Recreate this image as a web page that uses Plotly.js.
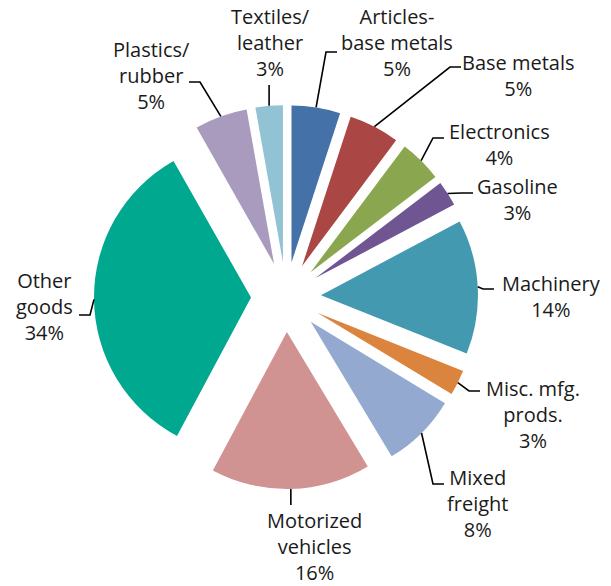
<!DOCTYPE html>
<html>
<head>
<meta charset="utf-8">
<script src="https://cdn.plot.ly/plotly-3.0.1.min.js"></script>
<style>
  html, body { margin: 0; padding: 0; background: #fff; }
  #chart { width: 611px; height: 586px; }
</style>
</head>
<body>
<div id="chart"></div>
<script>
// ---- data ----
const categories = ['Articles-base metals', 'Base metals', 'Electronics', 'Gasoline', 'Machinery',
  'Misc. mfg. prods.', 'Mixed freight', 'Motorized vehicles', 'Other goods', 'Plastics/rubber', 'Textiles/leather'];
const labelText = ['Articles-<br>base metals', 'Base metals', 'Electronics', 'Gasoline', 'Machinery',
  'Misc. mfg.<br>prods.', 'Mixed<br>freight', 'Motorized<br>vehicles', 'Other<br>goods', 'Plastics/<br>rubber', 'Textiles/<br>leather'];
const values = [5.0, 5.2, 4.4, 2.6, 13.8, 2.6, 7.7, 16.4, 33.9, 5.4, 2.8];

// ---- style ----
const colors = ['#4571A9', '#AA4644', '#8AA74F', '#6F5693', '#4299B0', '#DB843D',
  '#93A9CF', '#D19392', '#00A88F', '#A99BBE', '#92C3D4'];

// ---- layout geometry (pixels) ----
const W = 611, H = 586;
const CX = 286, CY = 297, HALF = 192, PULL = 0.223;
const R = HALF / (1 + PULL);
// label block centres
const labelCenter = [[397, 43], [518, 75], [499, 144], [517, 200], [551, 296], [533, 414],
  [477, 503], [314, 546], [44, 306], [151, 75], [270, 43]];
// leader elbow point and side of text ('R' text right of elbow, 'L' text left, 'V' vertical to y)
const leader = [
  {side: 'R', x: 326, y: 52}, {side: 'R', x: 450, y: 67}, {side: 'R', x: 433, y: 138},
  {side: 'R', x: 462, y: 193}, {side: 'R', x: 483, y: 289}, {side: 'R', x: 469, y: 391},
  {side: 'R', x: 433, y: 484}, {side: 'V', y: 505}, {side: 'L', x: 90, y: 315},
  {side: 'L', x: 200, y: 82}, {side: 'V', y: 85}
];
const ELBOW = 11;

const total = values.reduce((a, b) => a + b, 0);
const px = x => x / W;
const py = y => 1 - y / H;

const annotations = [];
const shapes = [];
let cum = 0;
values.forEach((v, i) => {
  const a0 = cum / total * 2 * Math.PI;
  cum += v;
  const a1 = cum / total * 2 * Math.PI;
  const mid = (a0 + a1) / 2;
  const pcx = CX + PULL * R * Math.sin(mid);
  const pcy = CY - PULL * R * Math.cos(mid);
  const ax = pcx + R * Math.sin(mid);
  const ay = pcy - R * Math.cos(mid);
  const pct = Math.round(v / total * 100);
  annotations.push({
    xref: 'paper', yref: 'paper', x: px(labelCenter[i][0]), y: py(labelCenter[i][1]),
    xanchor: 'center', yanchor: 'middle', showarrow: false, align: 'center',
    text: labelText[i] + '<br>' + pct + '%',
    font: {family: 'Open Sans, sans-serif', size: 20, color: '#1a1a1a'}
  });
  const L = leader[i];
  let path;
  if (L.side === 'V') {
    path = `M ${px(ax)} ${py(ay)} L ${px(ax)} ${py(L.y)}`;
  } else {
    const ex = L.side === 'R' ? L.x + ELBOW : L.x - ELBOW;
    path = `M ${px(ax)} ${py(ay)} L ${px(L.x)} ${py(L.y)} L ${px(ex)} ${py(L.y)}`;
  }
  shapes.push({type: 'path', xref: 'paper', yref: 'paper', path: path,
    line: {color: '#000', width: 1.6}});
});

const trace = {
  type: 'pie',
  labels: categories,
  values: values,
  sort: false,
  direction: 'clockwise',
  rotation: 0,
  pull: PULL,
  textinfo: 'none',
  hoverinfo: 'skip',
  marker: {colors: colors, line: {width: 0}},
  domain: {
    x: [(CX - HALF) / W, (CX + HALF) / W],
    y: [1 - (CY + HALF) / H, 1 - (CY - HALF) / H]
  }
};

const layout = {
  width: W, height: H,
  margin: {l: 0, r: 0, t: 0, b: 0},
  showlegend: false,
  paper_bgcolor: '#fff',
  annotations: annotations,
  shapes: shapes
};

Plotly.newPlot('chart', [trace], layout, {staticPlot: true, displayModeBar: false});
</script>
</body>
</html>
